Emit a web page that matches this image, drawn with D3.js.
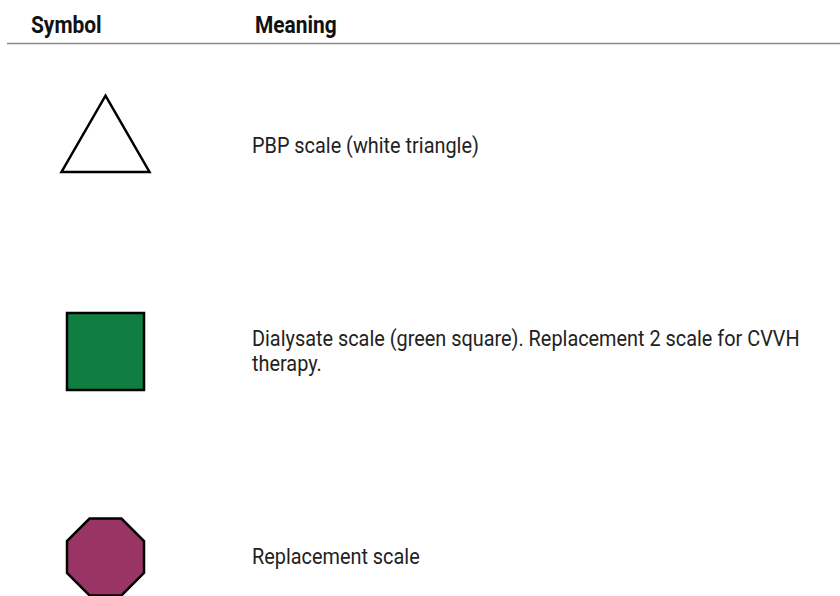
<!DOCTYPE html>
<html>
<head>
<meta charset="utf-8">
<script src="https://cdn.jsdelivr.net/npm/d3@7"></script>
<style>
  html, body { margin: 0; padding: 0; background: #ffffff; }
  svg { display: block; }
  text { font-family: Roboto, "Liberation Sans", sans-serif; }
</style>
</head>
<body>
<svg id="chart" width="840" height="596"></svg>
<script>
// ---- data ----
const headers = ["Symbol", "Meaning"];
const symbolTypes = ["triangle", "square", "octagon"];
const meanings = [
  "PBP scale (white triangle)",
  "Dialysate scale (green square). Replacement 2 scale for CVVH therapy.",
  "Replacement scale"
];
const fills = ["#ffffff", "#0f7e40", "#993465"];

// ---- layout ----
const W = 840, H = 596;
const svg = d3.select("#chart");
const fontSize = 21.5;
const bodyStretch = 0.925;   // condensed look
const headStretch = 0.91;

const rows = symbolTypes.map((s, i) => ({ type: s, meaning: meanings[i], fill: fills[i] }));

const y = d3.scalePoint()
  .domain(d3.range(rows.length))
  .range([146, 557]);

const symX = 105.5, textX = 252, wrapWidth = 565;

// header
const headX = [31, 255];
headers.forEach((h, i) => {
  svg.append("g").attr("transform", `translate(${headX[i]},33) scale(${headStretch},1)`)
    .append("text")
    .attr("font-size", 23).attr("font-weight", "bold").attr("fill", "#111")
    .text(h);
});
svg.append("line").attr("x1", 7).attr("x2", W).attr("y1", 43.5).attr("y2", 43.5)
  .attr("stroke", "#8a8a8a").attr("stroke-width", 1.5);

function shapePath(type) {
  const s = 77;
  if (type === "triangle") {
    const side = 88, h = side * Math.sqrt(3) / 2;
    const p = d3.path();
    p.moveTo(0, -h * 2 / 3 + 0.5);
    p.lineTo(side / 2, h / 3 + 0.5);
    p.lineTo(-side / 2, h / 3 + 0.5);
    p.closePath();
    return p.toString();
  }
  if (type === "square") {
    const p = d3.path();
    p.rect(-s / 2, -s / 2, s, s);
    return p.toString();
  }
  const r = (s / 2) / Math.cos(Math.PI / 8);
  const pts = d3.range(8).map(k => {
    const a = Math.PI / 8 + k * Math.PI / 4;
    return [r * Math.cos(a), r * Math.sin(a)];
  });
  return d3.line()(pts) + "Z";
}

const g = svg.selectAll("g.row").data(rows).join("g")
  .attr("class", "row")
  .attr("transform", (d, i) => `translate(0,${y(i)})`);

g.append("path")
  .attr("transform", `translate(${symX},0)`)
  .attr("d", d => shapePath(d.type))
  .attr("fill", d => d.fill)
  .attr("stroke", "#000")
  .attr("stroke-width", 2.5)
  .attr("stroke-linejoin", "miter");

g.each(function(d) {
  const sel = d3.select(this).append("g")
    .attr("transform", `translate(${textX},0) scale(${bodyStretch},1)`);
  const t = sel.append("text")
    .attr("x", 0)
    .attr("font-size", fontSize)
    .attr("fill", "#222");
  const words = d.meaning.split(" ");
  let lines = [], cur = [];
  const probe = svg.append("text").attr("font-size", fontSize).attr("visibility", "hidden");
  words.forEach(w => {
    const test = cur.concat(w).join(" ");
    probe.text(test);
    if (probe.node().getComputedTextLength() * bodyStretch > wrapWidth && cur.length) {
      lines.push(cur.join(" "));
      cur = [w];
    } else cur.push(w);
  });
  lines.push(cur.join(" "));
  probe.remove();
  const lh = 25;
  const first = 7 - (lines.length - 1) * lh / 2;
  lines.forEach((ln, k) => {
    t.append("tspan").attr("x", 0).attr("y", first + k * lh).text(ln);
  });
});
</script>
</body>
</html>
